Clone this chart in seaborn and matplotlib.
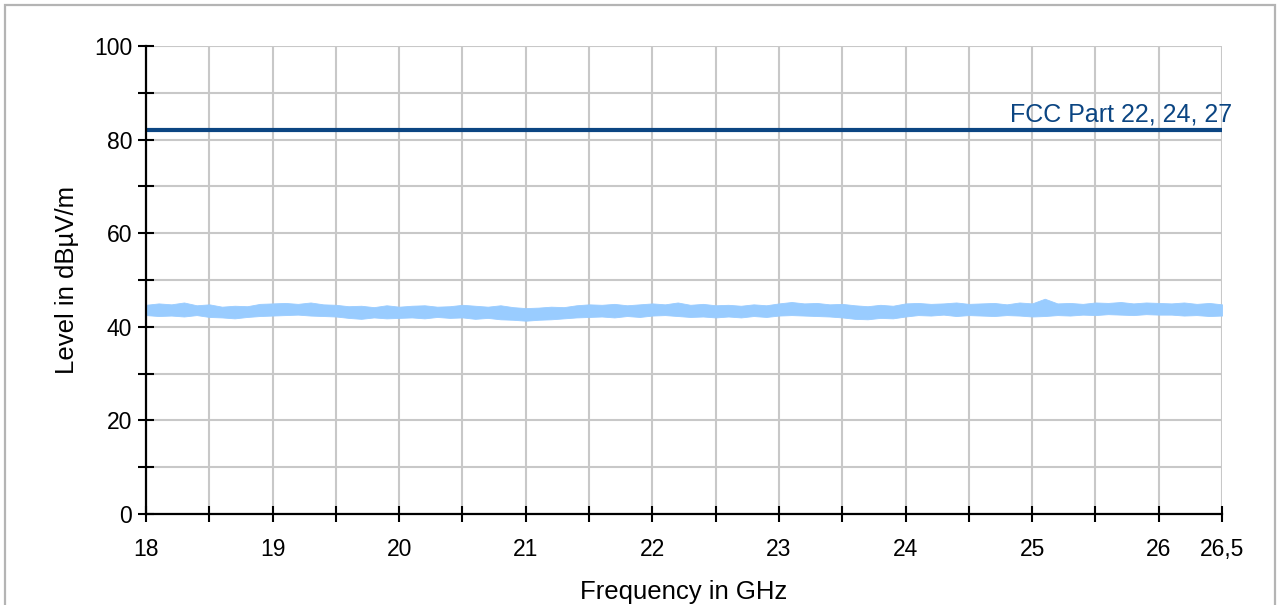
import numpy as np
import pandas as pd
import matplotlib
matplotlib.use("Agg")
import matplotlib.pyplot as plt
from matplotlib.patches import Rectangle
import seaborn as sns

# Measured spectrum envelope (dBµV/m), sampled every 0.1 GHz from 18.0 to 26.5 GHz
freq_ghz = np.round(np.arange(180, 266) / 10.0, 1)
level_upper = [
    44.7, 45.0, 44.8, 45.2, 44.6, 44.8,
    44.3, 44.5, 44.4, 44.9, 45.0,
    45.1, 44.9, 45.2, 44.8, 44.7,
    44.4, 44.5, 44.2, 44.6, 44.3,
    44.5, 44.6, 44.3, 44.4, 44.7,
    44.5, 44.3, 44.6, 44.2, 44.0,
    44.1, 44.3, 44.2, 44.6, 44.8,
    44.7, 44.9, 44.6, 44.8, 45.0,
    44.8, 45.2, 44.7, 44.9, 44.6,
    44.7, 44.5, 44.8, 44.6, 45.0,
    45.3, 45.0, 45.1, 44.8, 44.9,
    44.6, 44.4, 44.7, 44.5, 45.0,
    45.1, 44.9, 45.0, 45.2, 44.9,
    45.0, 45.1, 44.8, 45.2, 45.0,
    46.0, 45.0, 45.1, 44.9, 45.2,
    45.1, 45.3, 45.0, 45.2, 45.1,
    45.0, 45.2, 44.9, 45.1, 44.8,
]
level_lower = [
    42.5, 42.3, 42.4, 42.2, 42.5, 42.1,
    42.0, 41.8, 42.1, 42.3, 42.4,
    42.5, 42.6, 42.4, 42.3, 42.2,
    41.9, 41.7, 42.0, 41.8, 41.9,
    42.0, 41.8, 42.1, 41.9, 42.0,
    41.7, 41.9, 41.6, 41.5, 41.3,
    41.5, 41.6, 41.8, 42.0, 42.1,
    42.2, 42.0, 42.3, 42.1, 42.4,
    42.5, 42.3, 42.1, 42.2, 42.0,
    42.2, 42.0, 42.3, 42.1, 42.4,
    42.5, 42.4, 42.3, 42.2, 42.0,
    41.7, 41.6, 41.9, 41.8, 42.2,
    42.5, 42.4, 42.6, 42.3, 42.5,
    42.4, 42.3, 42.5, 42.4, 42.2,
    42.3, 42.5, 42.4, 42.6, 42.5,
    42.7, 42.6, 42.5, 42.7, 42.6,
    42.6, 42.4, 42.5, 42.3, 42.4,
]

# Regulatory limit line
limit_freq = [18.0, 26.5]
limit_level = [82.0, 82.0]
limit_label = "FCC Part 22, 24, 27"

# Axis ticks and labels
x_ticks = [18, 18.5, 19, 19.5, 20, 20.5, 21, 21.5, 22, 22.5, 23, 23.5, 24, 24.5, 25, 25.5, 26, 26.5]
x_tick_labels = ["18", "", "19", "", "20", "", "21", "", "22", "", "23", "", "24", "", "25", "", "26", "26,5"]
y_ticks = [0, 10, 20, 30, 40, 50, 60, 70, 80, 90, 100]
y_tick_labels = ["0", "", "20", "", "40", "", "60", "", "80", "", "100"]

sns.set_theme(style="white")
plt.rcParams["font.family"] = ["Liberation Sans", "DejaVu Sans"]

W, H = 1277, 605
fig = plt.figure(figsize=(W / 100, H / 100), dpi=100)
ax = fig.add_axes([146 / W, 1 - 514 / H, (1222 - 146) / W, (514 - 46) / H])

spectrum = pd.DataFrame({"freq": freq_ghz, "upper": level_upper, "lower": level_lower})
ax.fill_between(spectrum["freq"], spectrum["lower"], spectrum["upper"],
                color="#99ccff", linewidth=0.6, edgecolor="#99ccff", zorder=3)

limit = pd.DataFrame({"freq": limit_freq, "level": limit_level})
sns.lineplot(data=limit, x="freq", y="level", ax=ax, color="#0b4582",
             linewidth=3.0, zorder=4, solid_capstyle="butt")
ax.text(26.58, limit_level[-1] + 0.9, limit_label, color="#0b4582",
        fontsize=18, ha="right", va="bottom", zorder=5)

ax.set_xlim(18, 26.5)
ax.set_ylim(0, 100)
ax.set_xticks(x_ticks)
ax.set_xticklabels(x_tick_labels)
ax.set_yticks(y_ticks)
ax.set_yticklabels(y_tick_labels)

ax.grid(True, color="#c8c8c8", linewidth=1.5, zorder=0)
ax.set_axisbelow(True)
for side in ("top", "right"):
    ax.spines[side].set_visible(False)
for side in ("left", "bottom"):
    ax.spines[side].set_color("black")
    ax.spines[side].set_linewidth(1.6)
    ax.spines[side].set_zorder(6)

ax.tick_params(axis="both", which="major", bottom=True, left=True,
               direction="inout", length=12, width=1.5,
               color="black", labelcolor="black", labelsize=16.5)
ax.tick_params(axis="x", pad=11)
ax.tick_params(axis="y", pad=4)
ax.set_xlabel("Frequency in GHz", fontsize=18.5, color="black", labelpad=14)
ax.set_ylabel("Level in dBµV/m", fontsize=18.5, color="black", labelpad=11)

# Outer frame of the figure
fig.patches.append(Rectangle((5 / W, -0.02), (1275 - 5) / W, 1.02 - 5 / H,
                             transform=fig.transFigure, fill=False,
                             edgecolor="#b4b4b4", linewidth=1.6))

fig.savefig("out.png", dpi=100, facecolor="white")
